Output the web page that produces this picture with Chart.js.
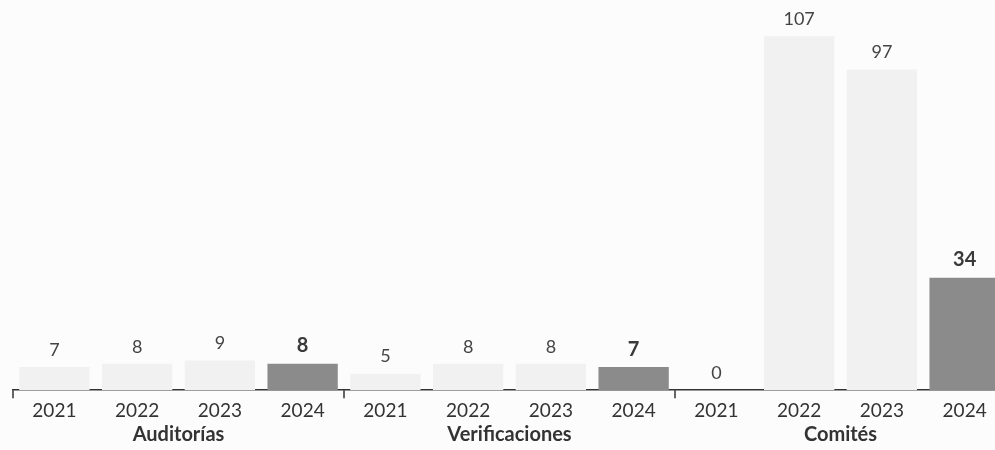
<!DOCTYPE html>
<html>
<head>
<meta charset="utf-8">
<script src="https://cdn.jsdelivr.net/npm/chart.js@4"></script>
<style>
  html, body { margin: 0; padding: 0; background: #fcfcfc; overflow: hidden; }
  #wrap { position: absolute; left: 0; top: 0; width: 1010px; height: 450px; }
</style>
</head>
<body>
<div id="wrap"><canvas id="chart" width="1010" height="450"></canvas></div>
<script>
// datos
const years = ['2021', '2022', '2023', '2024'];
const groups = ['Auditorías', 'Verificaciones', 'Comités'];
const auditorias = [7, 8, 9, 8];
const verificaciones = [5, 8, 8, 7];
const comites = [0, 107, 97, 34];

const labels = groups.flatMap(() => years);
const values = [...auditorias, ...verificaciones, ...comites];
const colors = labels.map(y => y === '2024' ? '#8b8b8b' : '#f1f1f2');

const fontFamily = 'Lato, "Open Sans", sans-serif';

// etiquetas de valor, nombres de grupo y marcas separadoras
const groupPlugin = {
  id: 'groupLabels',
  afterDatasetsDraw(chart) {
    const ctx = chart.ctx;
    const x = chart.scales.x;
    const area = chart.chartArea;
    const meta = chart.getDatasetMeta(0);

    ctx.save();
    ctx.textAlign = 'center';
    ctx.textBaseline = 'bottom';
    meta.data.forEach((bar, i) => {
      const last = labels[i] === '2024';
      ctx.font = (last ? 'bold 20px ' : '18px ') + fontFamily;
      ctx.fillStyle = last ? '#3a3a3a' : '#444444';
      ctx.fillText(values[i], bar.x, bar.y - 8);
    });

    // marcas entre grupos
    ctx.strokeStyle = '#333333';
    ctx.lineWidth = 1.5;
    for (let g = 0; g <= groups.length; g++) {
      const px = x.getPixelForValue(g * years.length - 0.5);
      ctx.beginPath();
      ctx.moveTo(px, area.bottom);
      ctx.lineTo(px, area.bottom + 8);
      ctx.stroke();
    }

    // nombres de grupo
    ctx.font = 'bold 20px ' + fontFamily;
    ctx.fillStyle = '#333333';
    ctx.textBaseline = 'middle';
    groups.forEach((name, g) => {
      const a = x.getPixelForValue(g * years.length - 0.5);
      const b = x.getPixelForValue((g + 1) * years.length - 0.5);
      ctx.fillText(name, (a + b) / 2, area.bottom + 44);
    });
    ctx.restore();
  }
};

new Chart(document.getElementById('chart'), {
  type: 'bar',
  data: {
    labels: labels,
    datasets: [{
      data: values,
      backgroundColor: colors,
      borderWidth: 0,
      categoryPercentage: 1,
      barPercentage: 0.85
    }]
  },
  options: {
    responsive: false,
    animation: false,
    layout: {
      padding: { top: 0, left: 13, right: 4, bottom: 19 }
    },
    scales: {
      x: {
        grid: { display: false, drawTicks: false },
        border: { display: true, color: '#333333', width: 1.5 },
        ticks: {
          color: '#333333',
          font: { family: fontFamily, size: 19 },
          padding: 9,
          maxRotation: 0,
          autoSkip: false
        }
      },
      y: {
        display: false,
        min: 0,
        max: 118
      }
    },
    plugins: {
      legend: { display: false },
      tooltip: { enabled: false }
    }
  },
  plugins: [groupPlugin]
});
</script>
</body>
</html>
